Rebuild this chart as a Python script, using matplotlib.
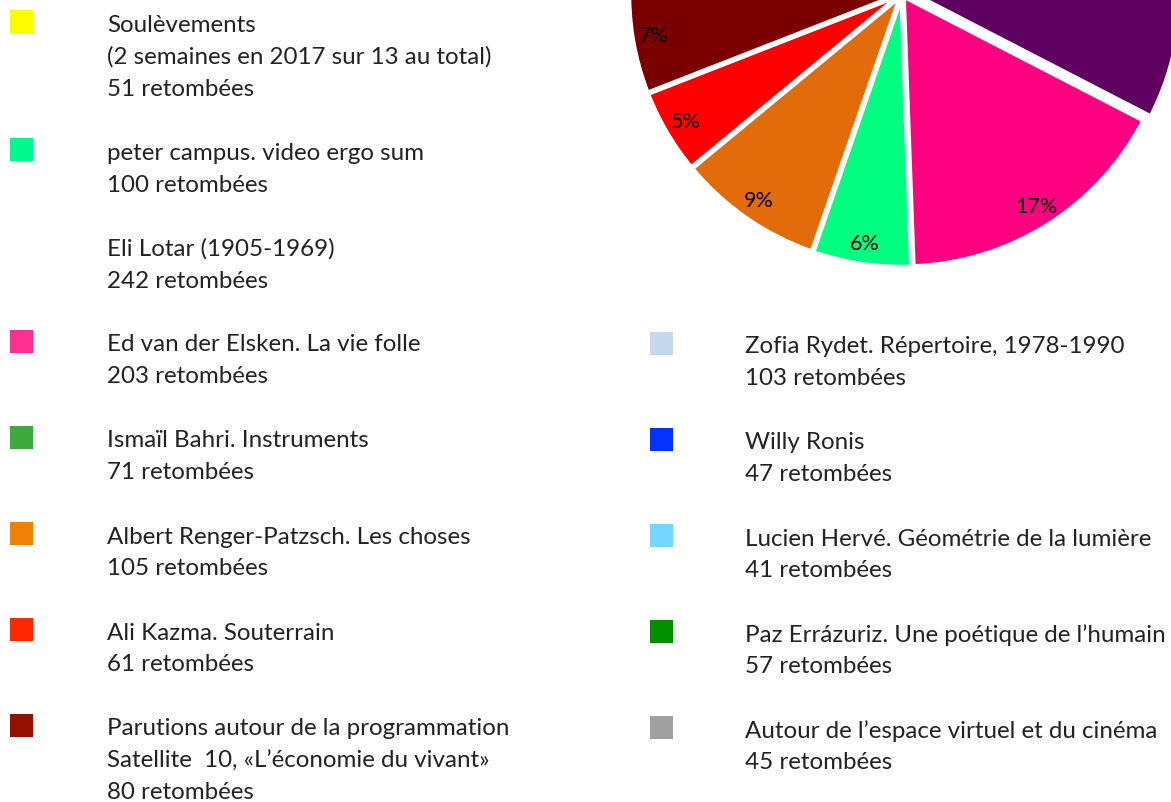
import matplotlib
matplotlib.use("Agg")
import matplotlib.pyplot as plt
from matplotlib.patches import Rectangle

# data
names = [
    "Soulèvements\n(2 semaines en 2017 sur 13 au total)",
    "peter campus. video ergo sum",
    "Eli Lotar (1905-1969)",
    "Ed van der Elsken. La vie folle",
    "Ismaïl Bahri. Instruments",
    "Albert Renger-Patzsch. Les choses",
    "Ali Kazma. Souterrain",
    "Parutions autour de la programmation\nSatellite  10, «L’économie du vivant»",
    "Zofia Rydet. Répertoire, 1978-1990",
    "Willy Ronis",
    "Lucien Hervé. Géométrie de la lumière",
    "Paz Errázuriz. Une poétique de l’humain",
    "Autour de l’espace virtuel et du cinéma",
]
counts = [51, 100, 242, 203, 71, 105, 61, 80, 103, 47, 41, 57, 45]
legend_colors = ["#FFFB00", "#00F98E", None, "#FF2F92", "#3DAA3D", "#EE8106",
                 "#FF2600", "#941100", "#C5D8EE", "#0433FF", "#76D6FF",
                 "#008F00", "#A0A0A0"]
pie_colors = ["#FFFF00", "#00C0C0", "#5F0060", "#FF0080", "#00FF80", "#E36C0A",
              "#FF0000", "#7B0000", "#C5D8EE", "#0000FF", "#76D6FF",
              "#008000", "#A0A0A0"]
explode = [0.01, 0.01, 0.03, 0.01, 0.01, 0.01, 0.01, 0.01, 0.01, 0.01, 0.01, 0.01, 0.01]

W, H = 1171, 803
fig = plt.figure(figsize=(W / 100, H / 100), dpi=100)
font = "Lato"
txt_color = "#222222"

# pie, mostly above the top edge of the figure
cx, cy, r = 902, -5, 270
half = 300
ax = fig.add_axes([(cx - half) / W, (H - cy - half) / H, 2 * half / W, 2 * half / H])
wedges, texts, autotexts = ax.pie(
    counts, colors=pie_colors, explode=explode, startangle=90, counterclock=False,
    radius=r / half, autopct="%.0f%%", pctdistance=0.92,
    wedgeprops=dict(edgecolor="white", linewidth=3.2),
    textprops=dict(fontsize=15.5, family=font, color="black"))
ax.set_xlim(-1, 1)
ax.set_ylim(-1, 1)
ax.set_aspect("equal")
ax.axis("off")

# labels of the slices that sit above the figure are not seen
for t in autotexts:
    if t.get_position()[1] > -cy / half - 0.06:
        t.set_visible(False)

# legend, drawn by hand in two columns
line_h = 32
columns = [(range(0, 8), 10, 107, 24), (range(8, 13), 650, 745, 346)]
for idx, sq_x, tx, y in columns:
    for i in idx:
        lines = names[i].split("\n") + [f"{counts[i]} retombées"]
        if legend_colors[i] is not None:
            fig.patches.append(Rectangle(
                (sq_x / W, 1 - (y + 10) / H), 23 / W, 23 / H,
                transform=fig.transFigure, facecolor=legend_colors[i],
                edgecolor="none"))
        for k, line in enumerate(lines):
            fig.text(tx / W, 1 - (y + 1 + k * line_h) / H, line, fontsize=17.4,
                     family=font, color=txt_color, va="center", ha="left")
        y += len(lines) * line_h + 32

fig.savefig("out.png", dpi=100)
